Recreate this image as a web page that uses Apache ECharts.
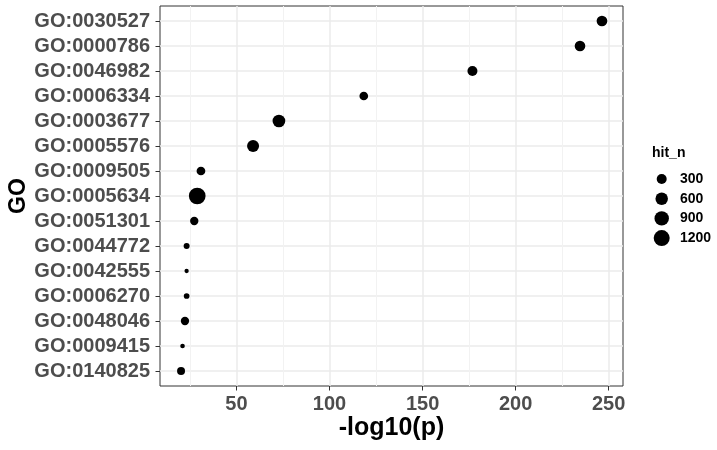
<!DOCTYPE html>
<html>
<head>
<meta charset="utf-8">
<script src="https://cdn.jsdelivr.net/npm/echarts@6/dist/echarts.min.js"></script>
<style>html,body{margin:0;padding:0;background:#fff}#c{width:717px;height:450px}</style>
</head>
<body>
<div id="c"></div>
<script>
// ---- data (top to bottom) ----
var goTerms = ['GO:0030527','GO:0000786','GO:0046982','GO:0006334','GO:0003677','GO:0005576','GO:0009505','GO:0005634','GO:0051301','GO:0044772','GO:0042555','GO:0006270','GO:0048046','GO:0009415','GO:0140825'];
var negLog10P = [246.4, 234.6, 176.8, 118.4, 72.8, 58.9, 30.9, 28.9, 27.3, 23.2, 23.2, 23.2, 22.3, 21.0, 20.2];
var hitN = [375, 370, 300, 185, 630, 530, 190, 1345, 160, 45, 20, 37, 158, 21, 138];
var xMajorTicks = [50, 100, 150, 200, 250];
var xMinorTicks = [25, 75, 125, 175, 225];
var sizeBreaks = ['300', '600', '900', '1200'];

// ---- size scale (area-like, ggplot style) ----
var vMin = Math.min.apply(null, hitN), vMax = Math.max.apply(null, hitN);
var dMin = 4.3, dMax = 16.7;
function sizeOf(v) {
  var t = Math.max(0, Math.min(1, (v - vMin) / (vMax - vMin)));
  return dMin + (dMax - dMin) * Math.sqrt(t);
}
var xLo = Math.min.apply(null, negLog10P), xHi = Math.max.apply(null, negLog10P);
var xPad = (xHi - xLo) * 0.05;
var yIdx = goTerms.map(function (_, i) { return i; });

var FONT = '"Liberation Sans", Arial, sans-serif';
var data = goTerms.map(function (g, i) { return [negLog10P[i], i, hitN[i]]; });
var legendData = sizeBreaks.map(function (b) { return [0, b, Number(b)]; });

var chart = echarts.init(document.getElementById('c'), null, { renderer: 'canvas' });
chart.setOption({
  animation: false,
  backgroundColor: '#fff',
  title: { text: 'hit_n', left: 652, top: 146, padding: 0,
    textStyle: { fontFamily: FONT, fontSize: 14, fontWeight: 'bold', color: '#000' } },
  grid: [
    { left: 160, right: 94, top: 6, bottom: 64, show: true, borderColor: '#333', borderWidth: 1,
      backgroundColor: 'transparent', outerBoundsMode: 'none', containLabel: false },
    { left: 656.7, width: 10, top: 169.2, height: 78.7, show: false, outerBoundsMode: 'none', containLabel: false }
  ],
  xAxis: [{
    type: 'value', gridIndex: 0, min: xLo - xPad, max: xHi + xPad,
    name: '-log10(p)', nameLocation: 'middle', nameGap: 30, nameMoveOverlap: false,
    nameTextStyle: { fontFamily: FONT, fontSize: 25, fontWeight: 'bold', color: '#000' },
    axisLine: { show: false, onZero: false },
    axisTick: { show: true, length: 4.5, customValues: xMajorTicks, lineStyle: { color: '#333', width: 1 } },
    axisLabel: { customValues: xMajorTicks, margin: 8, fontFamily: FONT, fontSize: 20, fontWeight: 'bold', color: '#4D4D4D' },
    splitLine: { show: true, lineStyle: { color: '#EBEBEB', width: 1.5 } },
    z: 1
  }, {
    type: 'value', gridIndex: 0, min: xLo - xPad, max: xHi + xPad, position: 'bottom',
    axisLine: { show: false, onZero: false }, axisLabel: { show: false },
    axisTick: { show: false, customValues: xMinorTicks },
    splitLine: { show: true, lineStyle: { color: '#F2F2F2', width: 1 } },
    z: 0
  }, {
    type: 'value', gridIndex: 1, min: -1, max: 1, show: false
  }],
  yAxis: [{
    type: 'value', gridIndex: 0, inverse: true, min: -0.6, max: goTerms.length - 1 + 0.6,
    name: 'GO', nameLocation: 'middle', nameGap: 130, nameRotate: 90, nameMoveOverlap: false,
    nameTextStyle: { fontFamily: FONT, fontSize: 23, fontWeight: 'bold', color: '#000' },
    axisLine: { show: false, onZero: false },
    axisTick: { show: true, length: 4.5, customValues: yIdx, lineStyle: { color: '#333', width: 1 } },
    axisLabel: { customValues: yIdx, margin: 10, fontFamily: FONT, fontSize: 20, fontWeight: 'bold', color: '#4D4D4D',
      formatter: function (v) { return goTerms[Math.round(v)]; } },
    splitLine: { show: true, lineStyle: { color: '#EBEBEB', width: 1.5 } }
  }, {
    type: 'category', gridIndex: 1, data: sizeBreaks, inverse: true, position: 'right',
    axisLine: { show: false }, axisTick: { show: false }, splitLine: { show: false },
    axisLabel: { margin: 13.3, fontFamily: FONT, fontSize: 14, fontWeight: 'bold', color: '#000' }
  }],
  series: [{
    type: 'scatter', name: 'GO', data: data, symbol: 'circle',
    symbolSize: function (val) { return sizeOf(val[2]); },
    itemStyle: { color: '#000', opacity: 1 }, emphasis: { disabled: true },
    xAxisIndex: 0, yAxisIndex: 0
  }, {
    type: 'scatter', name: 'hit_n', data: legendData, symbol: 'circle',
    symbolSize: function (val) { return sizeOf(val[2]); },
    itemStyle: { color: '#000', opacity: 1 }, emphasis: { disabled: true },
    xAxisIndex: 2, yAxisIndex: 1
  }]
});
</script>
</body>
</html>
